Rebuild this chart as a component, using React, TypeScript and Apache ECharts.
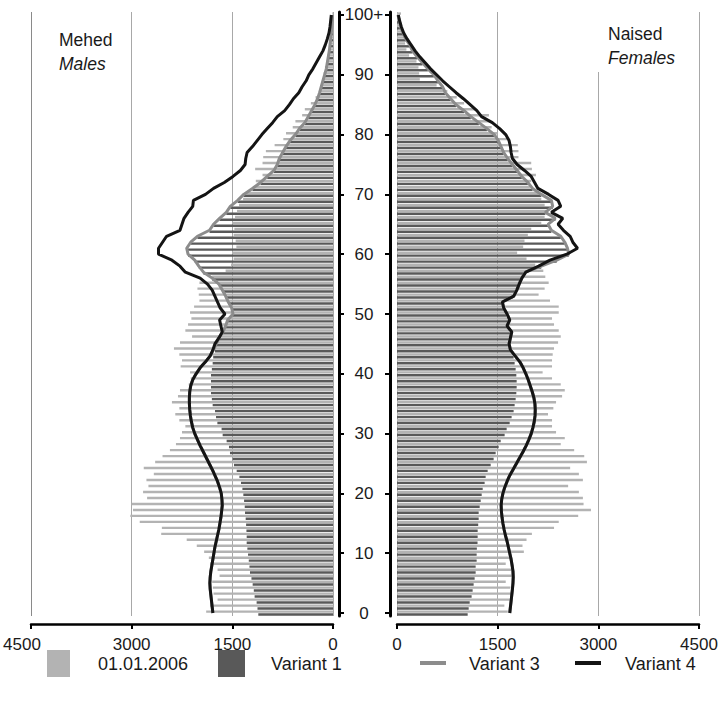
import React, { useEffect, useRef } from "react";
import * as echarts from "echarts";

const ages: string[] = Array.from({ length: 101 }, (_, i) => String(i));
const xTicks = [0, 1500, 3000, 4500];

const maleY2006 = [
  1890, 1830, 1720, 1780, 1790, 1800, 1690, 1720, 1830, 1850,
  1920, 2030, 2180, 2560, 2550, 2880, 3020, 2980, 3000, 2770,
  2830, 2750, 2780, 2670, 2820, 2650, 2540, 2430, 2340, 2280,
  2250, 2200, 2290, 2350, 2290, 2400, 2310, 2280, 2150, 2120,
  2130, 2270, 2250, 2290, 2370, 2280, 2100, 2200, 2160, 2110,
  2130, 2070, 1990, 2000, 2020, 1990, 1800, 1600, 1520, 1480,
  1500, 1440, 1450, 1480, 1470, 1500, 1460, 1430, 1400, 1340,
  1280, 1180, 1150, 1050, 1160, 1050, 1040, 1000, 870, 740,
  700, 600, 560, 460, 420, 330, 260, 200, 180, 160,
  140, 120, 95, 80, 60, 45, 30, 20, 15, 10, 10,
];
const maleV1 = [
  1113, 1125, 1138, 1168, 1180, 1197, 1215, 1237, 1245, 1255,
  1266, 1276, 1286, 1286, 1290, 1295, 1301, 1311, 1315, 1325,
  1336, 1350, 1371, 1395, 1435, 1475, 1495, 1535, 1550, 1585,
  1644, 1660, 1723, 1743, 1758, 1793, 1805, 1818, 1818, 1818,
  1818, 1805, 1793, 1785, 1758, 1740, 1700, 1640, 1600, 1570,
  1490, 1510, 1560, 1600, 1650, 1700, 1800, 1930, 2000, 2060,
  2160, 2180, 2120, 2020, 1840, 1780, 1690, 1590, 1530, 1420,
  1330, 1200, 1080, 980, 880, 830, 800, 750, 700, 640,
  560, 500, 420, 370, 320, 270, 230, 200, 175, 150,
  125, 100, 85, 70, 55, 45, 35, 25, 18, 12, 10,
];
const maleV3 = [
  1790, 1800, 1810, 1820, 1830, 1835, 1830, 1820, 1805, 1790,
  1775, 1760, 1740, 1720, 1700, 1685, 1670, 1660, 1650, 1655,
  1665, 1690, 1720, 1760, 1800, 1845, 1890, 1935, 1980, 2020,
  2060, 2090, 2110, 2125, 2135, 2140, 2140, 2135, 2120, 2090,
  2040, 1980, 1900, 1830, 1780, 1740, 1700, 1640, 1600, 1570,
  1490, 1510, 1560, 1600, 1650, 1700, 1800, 1930, 2000, 2060,
  2160, 2180, 2120, 2020, 1840, 1780, 1690, 1590, 1530, 1420,
  1330, 1200, 1080, 980, 880, 830, 800, 750, 700, 640,
  560, 500, 420, 370, 320, 270, 230, 200, 175, 150,
  125, 100, 85, 70, 55, 45, 35, 25, 18, 12, 10,
];
const maleV4 = [
  1790, 1800, 1810, 1820, 1830, 1835, 1830, 1820, 1805, 1790,
  1775, 1760, 1740, 1720, 1700, 1685, 1670, 1660, 1650, 1655,
  1665, 1690, 1720, 1760, 1800, 1845, 1890, 1935, 1980, 2020,
  2060, 2090, 2110, 2125, 2135, 2140, 2140, 2135, 2120, 2090,
  2040, 1980, 1900, 1830, 1790, 1760, 1700, 1650, 1670, 1690,
  1610, 1680, 1720, 1760, 1800, 1870, 1980, 2200, 2280, 2400,
  2600, 2600, 2540, 2480, 2280, 2250, 2220, 2160, 2090, 2080,
  1900, 1780, 1620, 1490, 1380, 1310, 1300, 1280, 1200, 1130,
  1060, 980, 900, 830, 720, 650, 590, 510, 460, 400,
  360, 300, 250, 200, 150, 115, 85, 60, 45, 35, 25,
];

const femY2006 = [
  1650, 1600, 1680, 1700, 1690, 1620, 1710, 1700, 1620, 1690,
  1890, 1870, 1930, 2010, 2340, 2410, 2700, 2890, 2780, 2770,
  2710, 2550, 2770, 2710, 2580, 2830, 2790, 2640, 2440, 2500,
  2370, 2310, 2310, 2250, 2330, 2370, 2460, 2500, 2440, 2310,
  2170, 2310, 2310, 2320, 2340, 2400, 2440, 2410, 2340, 2310,
  2410, 2410, 2280, 2110, 2200, 2260, 2210, 2180, 2060, 1930,
  1790, 1880, 1900, 1950, 2000, 2150, 2200, 2220, 2200, 2150,
  2100, 1980, 2000, 2070, 2010, 2000, 1810, 1810, 1800, 1640,
  1500, 1410, 1400, 1370, 1160, 1000, 890, 750, 590, 340,
  330, 320, 290, 180, 140, 120, 110, 70, 60, 50, 60,
];
const femV1 = [
  1053, 1068, 1083, 1112, 1127, 1142, 1157, 1172, 1172, 1187,
  1187, 1190, 1200, 1202, 1202, 1210, 1217, 1217, 1232, 1247,
  1262, 1277, 1306, 1321, 1351, 1396, 1440, 1470, 1515, 1545,
  1604, 1634, 1679, 1708, 1738, 1753, 1768, 1778, 1783, 1783,
  1778, 1768, 1753, 1738, 1708, 1680, 1680, 1690, 1640, 1660,
  1630, 1590, 1570, 1720, 1770, 1810, 1850, 1910, 2150, 2380,
  2560, 2540, 2500, 2440, 2300, 2250, 2360, 2210, 2320, 2300,
  2150, 2020, 1950, 1860, 1790, 1720, 1650, 1590, 1550, 1510,
  1450, 1340, 1220, 1100, 1000, 880, 800, 720, 680, 610,
  550, 460, 380, 300, 230, 190, 130, 90, 55, 35, 15,
];
const femV3 = [
  1680, 1690, 1700, 1710, 1720, 1728, 1732, 1728, 1715, 1700,
  1680, 1660, 1640, 1615, 1595, 1578, 1565, 1556, 1552, 1560,
  1578, 1605, 1640, 1680, 1730, 1780, 1830, 1880, 1925, 1965,
  2000, 2025, 2045, 2057, 2060, 2055, 2040, 2015, 1985, 1955,
  1920, 1880, 1830, 1760, 1690, 1670, 1690, 1710, 1640, 1680,
  1640, 1590, 1570, 1740, 1785, 1820, 1860, 1910, 2150, 2380,
  2560, 2540, 2500, 2440, 2300, 2250, 2360, 2210, 2320, 2300,
  2150, 2020, 1950, 1860, 1790, 1720, 1650, 1590, 1550, 1510,
  1450, 1340, 1220, 1100, 1000, 880, 800, 720, 680, 610,
  550, 460, 380, 300, 230, 190, 130, 90, 55, 35, 15,
];
const femV4 = [
  1680, 1690, 1700, 1710, 1720, 1728, 1732, 1728, 1715, 1700,
  1680, 1660, 1640, 1615, 1595, 1578, 1565, 1556, 1552, 1560,
  1578, 1605, 1640, 1680, 1730, 1780, 1830, 1880, 1925, 1965,
  2000, 2025, 2045, 2057, 2060, 2055, 2040, 2015, 1985, 1955,
  1920, 1880, 1830, 1760, 1690, 1670, 1690, 1710, 1640, 1680,
  1640, 1590, 1570, 1740, 1785, 1820, 1860, 1920, 2110, 2280,
  2530, 2690, 2620, 2580, 2480, 2400, 2470, 2300, 2440, 2400,
  2260, 2100, 2050, 2000, 1900, 1790, 1720, 1700, 1690, 1670,
  1620, 1530, 1420, 1260, 1190, 1090, 990, 880, 780, 680,
  590, 500, 420, 340, 270, 210, 150, 100, 65, 40, 20,
];

const FONT = "'Liberation Sans', Arial, sans-serif";
const TXT = "#1a1a1a";
const C2006 = "#b3b3b3";
const CV1 = "#595959";
const CV3 = "#8c8c8c";
const CV4 = "#141414";

export default function App() {
  const ref = useRef<HTMLDivElement>(null);
  useEffect(() => {
    if (!ref.current) return;
    const chart = echarts.init(ref.current, null, { renderer: "svg" });

    const xAxisBase = (gi: number, inverse: boolean) => ({
      gridIndex: gi,
      type: "value",
      inverse,
      min: xTicks[0],
      max: xTicks[xTicks.length - 1],
      interval: xTicks[1] - xTicks[0],
      position: "bottom",
      offset: 8,
      axisLine: { show: true, lineStyle: { color: "#000", width: 2.5 } },
      axisTick: { show: true, length: 5, lineStyle: { color: "#000", width: 2 } },
      axisLabel: {
        fontSize: 17,
        color: TXT,
        fontFamily: FONT,
        margin: 12,
        formatter: (v: number) => (inverse && v === 4500 ? "{l|" + v + "}" : String(v)),
        rich: { l: { fontSize: 17, color: TXT, fontFamily: FONT, padding: [0, 18, 0, 0] } },
      },
      splitLine: {
        show: true,
        lineStyle: { color: inverse ? ["#a8a8a8", "#a8a8a8", "#a8a8a8", "#8a8a8a"] : "#a8a8a8", width: 1 },
      },
    });

    const yAxisBase = (gi: number, pos: string, offset: number, showLabel: boolean) => ({
      gridIndex: gi,
      type: "category",
      data: ages,
      position: pos,
      offset,
      axisLine: { show: true, onZero: false, lineStyle: { color: "#000", width: 3 } },
      axisTick: { show: true, alignWithLabel: true, interval: 9, length: 5, lineStyle: { color: "#000", width: 2 } },
      axisLabel: {
        show: showLabel,
        interval: 9,
        align: "center",
        margin: 25,
        fontSize: 17,
        color: TXT,
        fontFamily: FONT,
        formatter: (v: string) => (v === "100" ? "100+" : v),
      },
      splitLine: { show: false },
    });

    const bar = (name: string, data: number[], color: string, gi: number) => ({
      name,
      type: "bar",
      xAxisIndex: gi,
      yAxisIndex: gi,
      data,
      itemStyle: { color },
      barCategoryGap: "12%",
      barGap: "18%",
      silent: true,
    });
    const line = (name: string, data: number[], color: string, gi: number, z: number) => ({
      name,
      type: "line",
      xAxisIndex: gi,
      yAxisIndex: gi,
      data,
      symbol: "none",
      lineStyle: { color, width: 3 },
      itemStyle: { color },
      z,
      silent: true,
    });

    const txt = (text: string, x: number, y: number, italic = false, size = 18) => ({
      type: "text",
      x,
      y,
      z: 101,
      style: {
        text,
        fill: TXT,
        font: (italic ? "italic " : "") + size + "px " + FONT,
        verticalAlign: "middle",
      },
    });

    chart.setOption({
      animation: false,
      backgroundColor: "#fff",
      grid: [
        { left: 31, top: 12, width: 302, height: 604 },
        { left: 397, top: 12, width: 302, height: 604 },
      ],
      xAxis: [xAxisBase(0, true), xAxisBase(1, false)],
      yAxis: [yAxisBase(0, "right", 6, true), yAxisBase(1, "left", 7, false)],
      series: [
        bar("01.01.2006", maleY2006, C2006, 0),
        bar("Variant 1", maleV1, CV1, 0),
        line("Variant 3", maleV3, CV3, 0, 3),
        line("Variant 4", maleV4, CV4, 0, 4),
        bar("01.01.2006", femY2006, C2006, 1),
        bar("Variant 1", femV1, CV1, 1),
        line("Variant 3", femV3, CV3, 1, 3),
        line("Variant 4", femV4, CV4, 1, 4),
      ],
      graphic: [
        txt("Mehed", 59, 40, false, 17.5),
        txt("Males", 59, 64, true, 17.5),
        { type: "rect", x: 596, y: 6, z: 100, shape: { width: 100, height: 66 }, style: { fill: "#fff" } },
        txt("Naised", 608, 34, false, 17.5),
        txt("Females", 608, 58, true, 17.5),
        { type: "rect", x: 47, y: 650, z: 100, shape: { width: 23, height: 27 }, style: { fill: C2006 } },
        txt("01.01.2006", 98, 664),
        { type: "rect", x: 218, y: 650, z: 100, shape: { width: 27, height: 27 }, style: { fill: CV1 } },
        txt("Variant 1", 271, 664),
        { type: "line", z: 100, shape: { x1: 420, y1: 663, x2: 446, y2: 663 }, style: { stroke: CV3, lineWidth: 4 } },
        txt("Variant 3", 469, 664),
        { type: "line", z: 100, shape: { x1: 575, y1: 663, x2: 601, y2: 663 }, style: { stroke: CV4, lineWidth: 4 } },
        txt("Variant 4", 625, 664),
      ],
    });
    return () => chart.dispose();
  }, []);
  return (
    <div
      ref={ref}
      style={{ position: "absolute", left: 0, top: 0, width: 723, height: 703, background: "#fff" }}
    />
  );
}
